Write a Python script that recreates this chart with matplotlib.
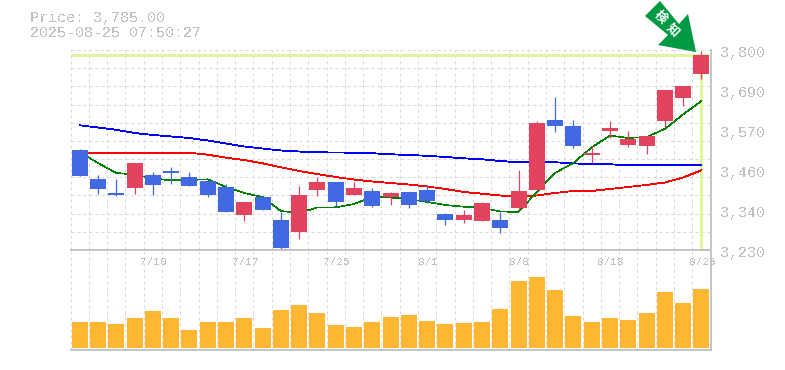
import matplotlib

matplotlib.use("Agg")

import matplotlib.pyplot as plt
from matplotlib.patches import Polygon

WIDTH, HEIGHT = 785, 370

# Candles, oldest first. Red = close above open, blue = close below open.
opens = [3515, 3432.4, 3392.5, 3407.6, 3443.8, 3455.2, 3438, 3426.7, 3409.6, 3330.6, 3381.1, 3315.5,
         3282.2, 3401, 3423.8, 3386.8, 3398.2, 3381.1, 3395.3, 3401, 3332.6, 3315.5, 3312.7, 3315.5,
         3349.7, 3401, 3600.5, 3583.4, 3500.8, 3569.2, 3529.3, 3526.4, 3597.7, 3663.2, 3731.6]
closes = [3441.8, 3404.7, 3387.6, 3478.8, 3416.1, 3449.5, 3413.3, 3387.6, 3339.2, 3366.8, 3344.9, 3236.6,
          3386.8, 3423.8, 3367.6, 3406.7, 3355.4, 3392.5, 3358.3, 3369.7, 3315.5, 3329.8, 3364, 3292.7,
          3398.2, 3592, 3583.4, 3526.4, 3506.5, 3577.7, 3546.4, 3554.9, 3686, 3697.4, 3785]
highs = [3517.9, 3443.8, 3432.4, 3478.8, 3452.3, 3466.6, 3452.3, 3426.7, 3418.1, 3366.8, 3381.1, 3338.3,
         3412.4, 3438, 3423.8, 3423.8, 3406.7, 3395.3, 3395.3, 3415.3, 3335.5, 3344, 3366.8, 3338.3,
         3458, 3597.7, 3666, 3600.5, 3526.4, 3597.7, 3569.2, 3554.9, 3686, 3697.4, 3797]
lows = [3441.8, 3390.5, 3384.8, 3390.5, 3387.6, 3419, 3413.3, 3381.9, 3339.2, 3313.5, 3344.9, 3228,
        3262.2, 3384.8, 3356.3, 3386.8, 3352.6, 3358.3, 3349.7, 3364, 3301.3, 3307, 3312.7, 3278.4,
        3344, 3401, 3566.3, 3520.7, 3478, 3549.2, 3523.6, 3503.6, 3580.6, 3640.4, 3717.4]

ma_short = [3509.3, 3478, 3449.5, 3445.2, 3433.8, 3428.6, 3429.5, 3431.5, 3409.6, 3392.5, 3381.1, 3341.2,
            3335.5, 3351.1, 3351.7, 3361.1, 3381.1, 3379.6, 3375.4, 3366.8, 3358.3, 3353.4, 3350.6, 3339.8,
            3338.3, 3395.3, 3449.5, 3478, 3522.1, 3556.3, 3549.2, 3552, 3574.9, 3616.2, 3654.7]
ma_mid = [3505.6, 3505.6, 3505.6, 3507.3, 3507.3, 3507.3, 3507.3, 3501.6, 3493, 3486.5, 3477.1, 3465.7,
          3455.2, 3446.6, 3438, 3430.9, 3425.2, 3420.9, 3416.7, 3411, 3403.9, 3395.3, 3390.5, 3385.3,
          3381.1, 3385.3, 3392.5, 3398.2, 3398.2, 3403.9, 3409.6, 3415.3, 3422.4, 3436.6, 3457.2]
ma_long = [3585.4, 3579.1, 3572.6, 3563.4, 3557.8, 3553.5, 3549.2, 3542.1, 3533.5, 3525, 3519.3, 3513.6,
           3510.7, 3508.4, 3507.9, 3507.3, 3505.9, 3502.8, 3500.8, 3498.5, 3495.1, 3491.3, 3488.5, 3483.7,
           3480, 3480, 3480, 3477.1, 3474.3, 3474.3, 3471.4, 3471.4, 3471.4, 3471.4, 3471.4]

volumes = [26, 26, 24, 30, 37, 30, 18, 26, 26, 30, 20, 38, 43, 35, 23, 21, 26, 31,
           33, 27, 24, 25, 26, 39, 67, 71, 58, 32, 26, 30, 28, 35, 56, 45, 59]

price_labels = ["3,800", "3,690", "3,570", "3,460", "3,340", "3,230"]
price_label_values = [3800, 3686, 3572, 3458, 3344, 3230]
date_labels = ["7/10", "7/17", "7/25", "8/1", "8/8", "8/18", "8/25"]
date_label_index = [4, 9, 14, 19, 24, 29, 34]
last_price = 3785

UP_COLOR = "#E2435F"
DOWN_COLOR = "#4169E1"
HIGHLIGHT = "#E0F5A0"
TEXT_COLOR = "#C0C0C0"
GRID_COLOR = "#D8D8D8"
MONO = "Liberation Mono"

plt.rcParams["text.antialiased"] = False


def axes_from_pixels(fig, left, top, right, bottom):
    return fig.add_axes([left / WIDTH, 1 - bottom / HEIGHT, (right - left) / WIDTH, (bottom - top) / HEIGHT])


def style_axes(ax, candle_count):
    ax.set_xlim(0, candle_count)
    ax.set_xticks(range(candle_count))
    ax.set_xticklabels([])
    ax.tick_params(length=0)
    ax.set_axisbelow(True)
    ax.grid(axis="x", color=GRID_COLOR, linestyle=(0, (3, 3)), linewidth=0.72)
    for side in ("top", "left"):
        ax.spines[side].set_visible(False)
    for side in ("right", "bottom"):
        ax.spines[side].set_color(TEXT_COLOR)
        ax.spines[side].set_linewidth(1.3)


fig = plt.figure(figsize=(WIDTH / 100, HEIGHT / 100), dpi=100)
ax_price = axes_from_pixels(fig, 70.5, 50, 710.5, 250)
ax_volume = axes_from_pixels(fig, 70.5, 250, 710.5, 350)

candle_count = len(opens)
centers = [i + 0.5 for i in range(candle_count)]

style_axes(ax_price, candle_count)
ax_price.set_ylim(3230, 3800)
price_grid = [3230 + 570 * i / 11 for i in range(12)]
ax_price.set_yticks(price_grid)
ax_price.set_yticklabels([])
ax_price.grid(axis="y", color=GRID_COLOR, linestyle=(0, (3, 3)), linewidth=0.72)

# Marker for the latest price, under everything else.
ax_price.axhline(last_price, color=HIGHLIGHT, linewidth=2.2, zorder=1.5)
ax_price.plot([centers[-1], centers[-1]], [last_price, 3233], color=HIGHLIGHT, linewidth=2.2, zorder=1.5)

ax_price.plot(centers, ma_long, color="#0000FF", linewidth=0.6, zorder=2, antialiased=False)
ax_price.plot(centers, ma_mid, color="#FF0000", linewidth=0.6, zorder=2, antialiased=False)
ax_price.plot(centers, ma_short, color="#008000", linewidth=0.45, zorder=2, antialiased=False)

for x, o, c, h, l in zip(centers, opens, closes, highs, lows):
    color = UP_COLOR if c > o else DOWN_COLOR
    ax_price.vlines(x, l, h, color=color, linewidth=0.9, zorder=3)
    ax_price.bar(x, abs(c - o), bottom=min(o, c), width=0.875, color=color, zorder=4)

style_axes(ax_volume, candle_count)
ax_volume.set_ylim(-2, 98)
ax_volume.set_yticks([])
ax_volume.spines["top"].set_visible(True)
ax_volume.spines["top"].set_color(TEXT_COLOR)
ax_volume.spines["top"].set_linewidth(1.3)
ax_volume.bar(centers, volumes, width=0.875, color="#FFB733", zorder=3)

for value, label in zip(price_label_values, price_labels):
    ax_price.annotate(label, (1, value), xycoords=("axes fraction", "data"), xytext=(7.2, -2.2),
                      textcoords="offset points", family=MONO, fontsize=10.8, color=TEXT_COLOR,
                      ha="left", va="center", annotation_clip=False)
for index, label in zip(date_label_index, date_labels):
    ax_volume.annotate(label, (centers[index], 1), xycoords=("data", "axes fraction"), xytext=(0.5, -8.8),
                       textcoords="offset points", family=MONO, fontsize=8, color=TEXT_COLOR,
                       ha="center", va="center", annotation_clip=False)

fig.text(30 / WIDTH, 1 - 18 / HEIGHT, "Price: 3,785.00", family=MONO, fontsize=10.8, color=TEXT_COLOR, va="center")
fig.text(30 / WIDTH, 1 - 33 / HEIGHT, "2025-08-25 07:50:27", family=MONO, fontsize=10.8, color=TEXT_COLOR, va="center")

# Green "detected" arrow pointing at the latest candle.
arrow_pixels = [(696, 52), (688, 14), (679, 24), (660, 1), (645, 16), (668, 35), (658, 45)]
arrow_xy = [(x / WIDTH, 1 - y / HEIGHT) for x, y in arrow_pixels]
fig.add_artist(Polygon(arrow_xy, closed=True, transform=fig.transFigure, facecolor="#009944", edgecolor="none", zorder=5))
for px, py, char in [(660, 17, "検"), (673, 30, "知")]:
    fig.text(px / WIDTH, 1 - py / HEIGHT, char, family="Noto Sans CJK JP", fontweight="bold", fontsize=9,
             color="white", rotation=-45, ha="center", va="center", zorder=6, antialiased=True)

fig.savefig("out.png", dpi=100)
plt.close(fig)
